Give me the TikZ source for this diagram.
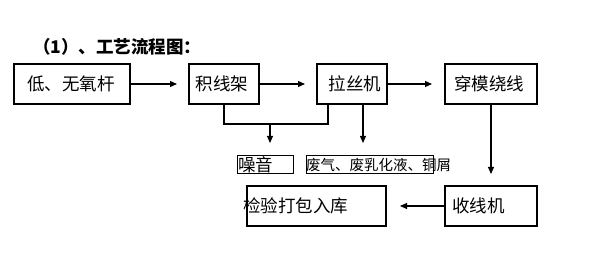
\documentclass[tikz,border=0pt]{standalone}
\usepackage{fontspec}
\setmainfont{Noto Sans CJK SC}
\usetikzlibrary{arrows.meta}
\tikzset{
  boxnode/.style={draw=black, line width=1.1pt, inner sep=0pt, minimum height=40pt},
  smallbox/.style={draw=black, line width=1pt, inner sep=0pt, minimum height=18pt},
  txt/.style={inner sep=0pt, font=\fontsize{17.5}{18}\selectfont},
  smalltxt/.style={inner sep=0pt, font=\fontsize{14.5}{15}\selectfont},
  conn/.style={line width=1.1pt, draw=black},
  arr/.style={conn, -{Triangle[length=7pt,width=6pt]}}
}
\begin{document}
\begin{tikzpicture}[x=1pt,y=-1pt]
\useasboundingbox[fill=white] (0,0) rectangle (600,256);
% title
\node[inner sep=0pt, anchor=west, font=\fontsize{17.5}{18}\selectfont\bfseries] (title) at (33,47) {（1）、工艺流程图：};
% boxes
\node[boxnode, minimum width=116pt] (b1) at (72,84) {};
\node[boxnode, minimum width=70pt] (b2) at (224,84) {};
\node[boxnode, minimum width=70pt] (b3) at (352,84) {};
\node[boxnode, minimum width=92pt] (b4) at (491,84) {};
\node[boxnode, minimum width=92pt] (b5) at (491,206) {};
\node[boxnode, minimum width=139pt] (b6) at (316.5,206) {};
\node[smallbox, minimum width=56pt] (n1) at (265,165) {};
\node[smallbox, minimum width=127pt] (n2) at (369.5,165) {};
% texts
\node[txt] (t1) at (71,84) {低、无氧杆};
\node[txt] (t2) at (222,84) {积线架};
\node[txt] (t3) at (355,84) {拉丝机};
\node[txt] (t4) at (489,84) {穿模绕线};
\node[txt, anchor=west] (t5) at (452,206) {收线机};
\node[txt, anchor=west] (t6) at (243,206) {检验打包入库};
\node[txt, anchor=west] (t7) at (238,165) {噪音};
\node[smalltxt, anchor=west] (t8) at (306,165) {废气、废乳化液、铜屑};
% coordinates
\coordinate (a1) at (177,84);
\coordinate (a2) at (305,84);
\coordinate (a3) at (432,84);
\coordinate (a4) at (491,174);
\coordinate (a5) at (400,206);
\coordinate (j1) at (224,124);
\coordinate (j2) at (328,124);
\coordinate (j3) at (270,124);
\coordinate (a6) at (270,143);
\coordinate (a7) at (363,143);
% connectors
\draw[arr] (b1.east) -- (a1);
\draw[arr] (b2.east) -- (a2);
\draw[arr] (b3.east) -- (a3);
\draw[arr] (b4.south) -- (a4);
\draw[arr] (b5.west) -- (a5);
\draw[conn] (b2.south) -- (j1) -- (j2) -- (b3.south -| j2);
\draw[arr] (j3) -- (a6);
\draw[arr] (b3.south -| a7) -- (a7);
\end{tikzpicture}
\end{document}
